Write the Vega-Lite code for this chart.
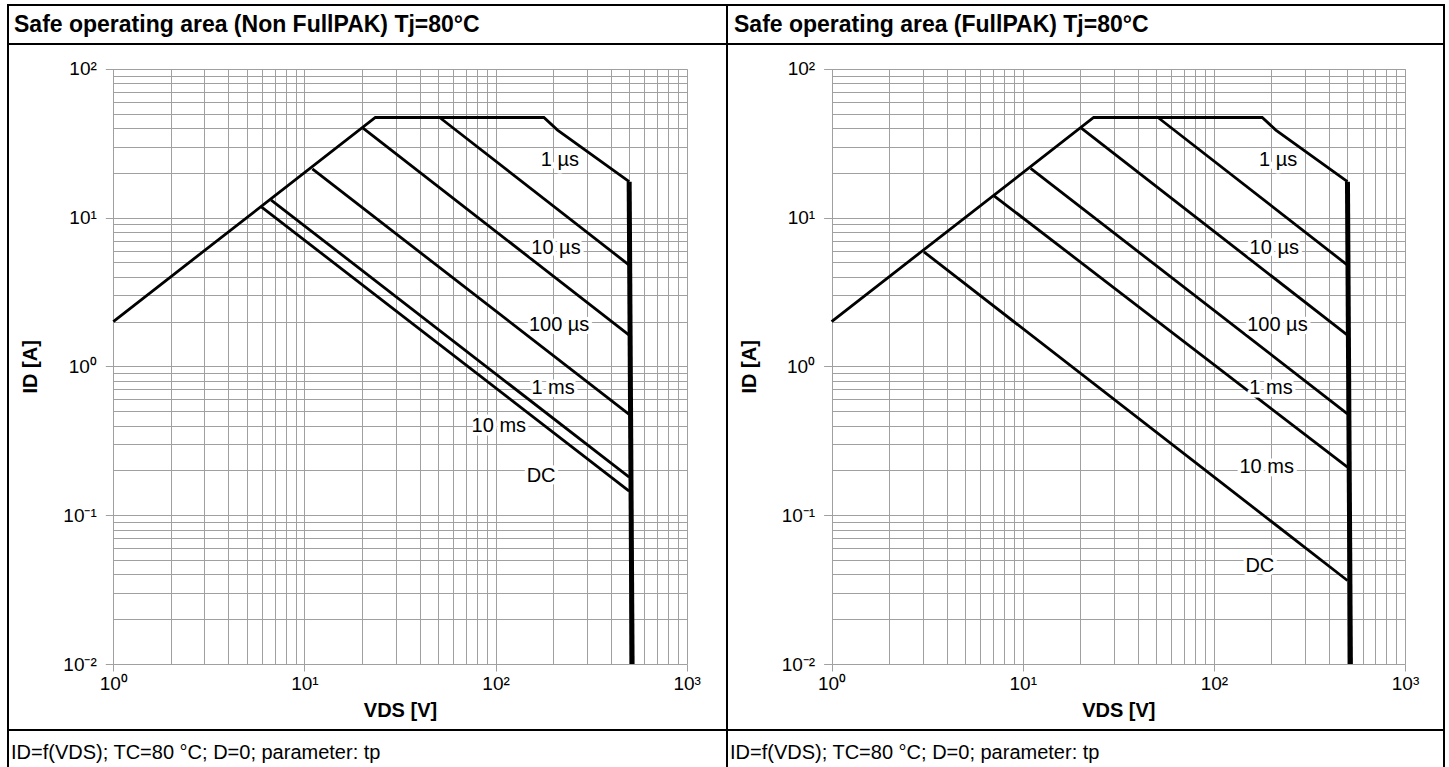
{
  "$schema": "https://vega.github.io/schema/vega-lite/v6.json",
  "autosize": {"type": "pad"},
  "padding": {"left": 7, "top": 4, "right": 4, "bottom": 0},
  "background": "white",
  "columns": 2,
  "spacing": 0,
  "bounds": "flush",
  "config": {
    "font": "Liberation Sans",
    "view": {"stroke": "black", "strokeWidth": 2},
    "axis": {"labelFont": "Liberation Sans", "titleFont": "Liberation Sans"},
    "text": {"font": "Liberation Sans", "color": "black"}
  },
  "datasets": {
    "nonfull": [
      {"series": "1 µs", "V": 1, "I": 2},
      {"series": "1 µs", "V": 23.5, "I": 47},
      {"series": "1 µs", "V": 179, "I": 47},
      {"series": "1 µs", "V": 211, "I": 38.7},
      {"series": "1 µs", "V": 500, "I": 17.4},
      {"series": "10 µs", "V": 51, "I": 47},
      {"series": "10 µs", "V": 500, "I": 4.79},
      {"series": "100 µs", "V": 20.1, "I": 40.2},
      {"series": "100 µs", "V": 500, "I": 1.62},
      {"series": "1 ms", "V": 11, "I": 21.2},
      {"series": "1 ms", "V": 500, "I": 0.476},
      {"series": "10 ms", "V": 6.7, "I": 13.1},
      {"series": "10 ms", "V": 500, "I": 0.18},
      {"series": "DC", "V": 5.95, "I": 11.8},
      {"series": "DC", "V": 500, "I": 0.145},
      {"series": "limit", "V": 500, "I": 17.4},
      {"series": "limit", "V": 518, "I": 0.01}
    ],
    "full": [
      {"series": "1 µs", "V": 1, "I": 2},
      {"series": "1 µs", "V": 23.5, "I": 47},
      {"series": "1 µs", "V": 179, "I": 47},
      {"series": "1 µs", "V": 211, "I": 38.7},
      {"series": "1 µs", "V": 500, "I": 17.4},
      {"series": "10 µs", "V": 51, "I": 47},
      {"series": "10 µs", "V": 500, "I": 4.79},
      {"series": "100 µs", "V": 20.1, "I": 40.2},
      {"series": "100 µs", "V": 500, "I": 1.62},
      {"series": "1 ms", "V": 11, "I": 21.4},
      {"series": "1 ms", "V": 500, "I": 0.48},
      {"series": "10 ms", "V": 7.08, "I": 14.0},
      {"series": "10 ms", "V": 500, "I": 0.21},
      {"series": "DC", "V": 3.04, "I": 5.88},
      {"series": "DC", "V": 500, "I": 0.0364},
      {"series": "limit", "V": 500, "I": 17.4},
      {"series": "limit", "V": 518, "I": 0.01}
    ],
    "labelsL": [
      {"label": "1 µs", "V": 217, "I": 24.3},
      {"label": "10 µs", "V": 207, "I": 6.23},
      {"label": "100 µs", "V": 215, "I": 1.89},
      {"label": "1 ms", "V": 200, "I": 0.713},
      {"label": "10 ms", "V": 104, "I": 0.396},
      {"label": "DC", "V": 173, "I": 0.183}
    ],
    "labelsR": [
      {"label": "1 µs", "V": 217, "I": 24.3},
      {"label": "10 µs", "V": 207, "I": 6.23},
      {"label": "100 µs", "V": 215, "I": 1.89},
      {"label": "1 ms", "V": 199, "I": 0.715},
      {"label": "10 ms", "V": 189, "I": 0.211},
      {"label": "DC", "V": 174, "I": 0.0454}
    ]
  },
  "concat": [
    {
      "width": 719, "height": 39,
      "data": {"values": [{"t": "Safe operating area (Non FullPAK) Tj=80°C"}]},
      "mark": {"type": "text", "align": "left", "baseline": "middle", "dx": 6, "fontSize": 23, "fontWeight": "bold"},
      "encoding": {
        "x": {"datum": 0, "type": "quantitative", "scale": {"domain": [0, 1]}, "axis": null},
        "y": {"datum": 0.5, "type": "quantitative", "scale": {"domain": [0, 1]}, "axis": null},
        "text": {"field": "t"}
      }
    },
    {
      "width": 717, "height": 39,
      "data": {"values": [{"t": "Safe operating area (FullPAK) Tj=80°C"}]},
      "mark": {"type": "text", "align": "left", "baseline": "middle", "dx": 7, "fontSize": 23, "fontWeight": "bold"},
      "encoding": {
        "x": {"datum": 0, "type": "quantitative", "scale": {"domain": [0, 1]}, "axis": null},
        "y": {"datum": 0.5, "type": "quantitative", "scale": {"domain": [0, 1]}, "axis": null},
        "text": {"field": "t"}
      }
    },
    {
      "width": 719, "height": 686,
      "data": {"name": "nonfull"},
      "encoding": {
        "x": {"field": "V", "type": "quantitative",
          "scale": {"type": "log", "domain": [1, 1000], "range": [105.3, 678.7], "nice": false},
          "axis": {"orient": "top", "offset": -620,
            "values": [1,2,3,4,5,6,7,8,9,10,20,30,40,50,60,70,80,90,100,200,300,400,500,600,700,800,900,1000],
            "domain": false, "grid": true, "gridColor": "#a0a0a0", "gridWidth": 1, "gridOpacity": 1,
            "tickColor": "#a0a0a0", "tickSize": -7,
            "tickOpacity": {"condition": {"test": "indexof([1,10,100,1000], datum.value) >= 0", "value": 1}, "value": 0},
            "labelExpr": "datum.value === 1 ? '10⁰' : datum.value === 10 ? '10¹' : datum.value === 100 ? '10²' : datum.value === 1000 ? '10³' : ''",
            "labelFontSize": 19, "labelColor": "black", "labelPadding": -3, "labelBaseline": "top", "labelOverlap": false, "labelFlush": false,
            "title": "VDS [V]", "titleFontSize": 20, "titleFontWeight": "bold", "titleColor": "black", "titleY": 46, "titleBaseline": "middle"}},
        "y": {"field": "I", "type": "quantitative",
          "scale": {"type": "log", "domain": [0.01, 100], "range": [620, 24.7], "nice": false},
          "axis": {"orient": "left", "offset": -105.3,
            "values": [0.01,0.02,0.03,0.04,0.05,0.06,0.07,0.08,0.09,0.1,0.2,0.3,0.4,0.5,0.6,0.7,0.8,0.9,1,2,3,4,5,6,7,8,9,10,20,30,40,50,60,70,80,90,100],
            "domain": false, "grid": true, "gridColor": "#a0a0a0", "gridWidth": 1, "gridOpacity": 1,
            "tickColor": "#a0a0a0", "tickSize": 8,
            "tickOpacity": {"condition": {"test": "indexof([0.01,0.1,1,10,100], datum.value) >= 0", "value": 1}, "value": 0},
            "labelExpr": "datum.value === 0.01 ? '10⁻²' : datum.value === 0.1 ? '10⁻¹' : datum.value === 1 ? '10⁰' : datum.value === 10 ? '10¹' : datum.value === 100 ? '10²' : ''",
            "labelFontSize": 19, "labelColor": "black", "labelPadding": 9, "labelOverlap": false, "labelFlush": false,
            "title": "ID [A]", "titleFontSize": 20, "titleFontWeight": "bold", "titleColor": "black", "titlePadding": 22}}
      },
      "layer": [
        {"transform": [{"filter": "datum.series !== 'limit'"}], "mark": {"type": "line", "color": "black", "strokeWidth": 2.8}, "encoding": {"detail": {"field": "series"}}},
        {"transform": [{"filter": "datum.series === 'limit'"}], "mark": {"type": "line", "color": "black", "strokeWidth": 5}, "encoding": {}},
        {"data": {"name": "labelsL"}, "mark": {"type": "text", "fontSize": 20, "fill": "white", "stroke": "white", "strokeWidth": 7, "strokeJoin": "round"}, "encoding": {"text": {"field": "label"}}},
        {"data": {"name": "labelsL"}, "mark": {"type": "text", "fontSize": 20, "color": "black"}, "encoding": {"text": {"field": "label"}}}
      ]
    },
    {
      "width": 717, "height": 686,
      "data": {"name": "full"},
      "encoding": {
        "x": {"field": "V", "type": "quantitative",
          "scale": {"type": "log", "domain": [1, 1000], "range": [104.6, 678], "nice": false},
          "axis": {"orient": "top", "offset": -620,
            "values": [1,2,3,4,5,6,7,8,9,10,20,30,40,50,60,70,80,90,100,200,300,400,500,600,700,800,900,1000],
            "domain": false, "grid": true, "gridColor": "#a0a0a0", "gridWidth": 1, "gridOpacity": 1,
            "tickColor": "#a0a0a0", "tickSize": -7,
            "tickOpacity": {"condition": {"test": "indexof([1,10,100,1000], datum.value) >= 0", "value": 1}, "value": 0},
            "labelExpr": "datum.value === 1 ? '10⁰' : datum.value === 10 ? '10¹' : datum.value === 100 ? '10²' : datum.value === 1000 ? '10³' : ''",
            "labelFontSize": 19, "labelColor": "black", "labelPadding": -3, "labelBaseline": "top", "labelOverlap": false, "labelFlush": false,
            "title": "VDS [V]", "titleFontSize": 20, "titleFontWeight": "bold", "titleColor": "black", "titleY": 46, "titleBaseline": "middle"}},
        "y": {"field": "I", "type": "quantitative",
          "scale": {"type": "log", "domain": [0.01, 100], "range": [620, 24.7], "nice": false},
          "axis": {"orient": "left", "offset": -104.6,
            "values": [0.01,0.02,0.03,0.04,0.05,0.06,0.07,0.08,0.09,0.1,0.2,0.3,0.4,0.5,0.6,0.7,0.8,0.9,1,2,3,4,5,6,7,8,9,10,20,30,40,50,60,70,80,90,100],
            "domain": false, "grid": true, "gridColor": "#a0a0a0", "gridWidth": 1, "gridOpacity": 1,
            "tickColor": "#a0a0a0", "tickSize": 8,
            "tickOpacity": {"condition": {"test": "indexof([0.01,0.1,1,10,100], datum.value) >= 0", "value": 1}, "value": 0},
            "labelExpr": "datum.value === 0.01 ? '10⁻²' : datum.value === 0.1 ? '10⁻¹' : datum.value === 1 ? '10⁰' : datum.value === 10 ? '10¹' : datum.value === 100 ? '10²' : ''",
            "labelFontSize": 19, "labelColor": "black", "labelPadding": 9, "labelOverlap": false, "labelFlush": false,
            "title": "ID [A]", "titleFontSize": 20, "titleFontWeight": "bold", "titleColor": "black", "titlePadding": 22}}
      },
      "layer": [
        {"transform": [{"filter": "datum.series !== 'limit'"}], "mark": {"type": "line", "color": "black", "strokeWidth": 2.8}, "encoding": {"detail": {"field": "series"}}},
        {"transform": [{"filter": "datum.series === 'limit'"}], "mark": {"type": "line", "color": "black", "strokeWidth": 5}, "encoding": {}},
        {"data": {"name": "labelsR"}, "mark": {"type": "text", "fontSize": 20, "fill": "white", "stroke": "white", "strokeWidth": 7, "strokeJoin": "round"}, "encoding": {"text": {"field": "label"}}},
        {"data": {"name": "labelsR"}, "mark": {"type": "text", "fontSize": 20, "color": "black"}, "encoding": {"text": {"field": "label"}}}
      ]
    },
    {
      "width": 719, "height": 40,
      "data": {"values": [{"t": "ID=f(VDS);  TC=80 °C; D=0; parameter: tp"}]},
      "mark": {"type": "text", "align": "left", "baseline": "middle", "dx": 3, "fontSize": 20},
      "encoding": {
        "x": {"datum": 0, "type": "quantitative", "scale": {"domain": [0, 1]}, "axis": null},
        "y": {"datum": 0.43, "type": "quantitative", "scale": {"domain": [0, 1]}, "axis": null},
        "text": {"field": "t"}
      }
    },
    {
      "width": 717, "height": 40,
      "data": {"values": [{"t": "ID=f(VDS);  TC=80 °C; D=0; parameter: tp"}]},
      "mark": {"type": "text", "align": "left", "baseline": "middle", "dx": 3, "fontSize": 20},
      "encoding": {
        "x": {"datum": 0, "type": "quantitative", "scale": {"domain": [0, 1]}, "axis": null},
        "y": {"datum": 0.43, "type": "quantitative", "scale": {"domain": [0, 1]}, "axis": null},
        "text": {"field": "t"}
      }
    }
  ]
}
